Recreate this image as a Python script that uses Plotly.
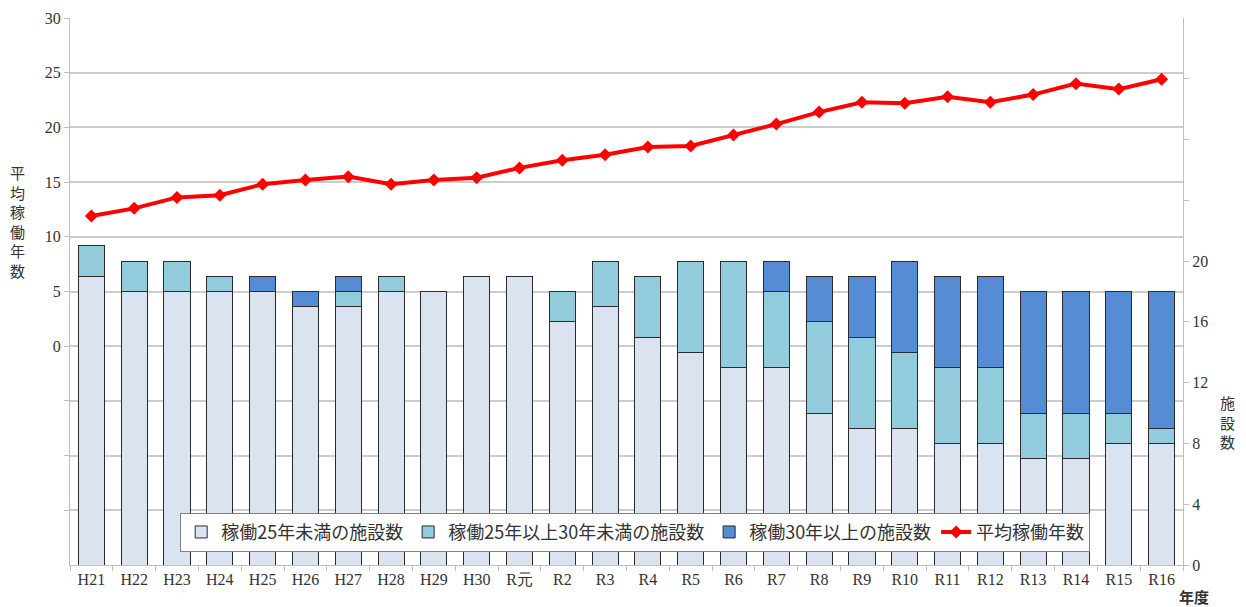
import plotly.graph_objects as go

years = ["H21","H22","H23","H24","H25","H26","H27","H28","H29","H30","R元",
         "R2","R3","R4","R5","R6","R7","R8","R9","R10","R11","R12","R13","R14","R15","R16"]
under25 = [19,18,18,18,18,17,17,18,18,19,19,16,17,15,14,13,13,10,9,9,8,8,7,7,8,8]
from25to30 = [2,2,2,1,0,0,1,1,0,0,0,2,3,4,6,7,5,6,6,5,5,5,3,3,2,1]
over30 = [0,0,0,0,1,1,1,0,0,0,0,0,0,0,0,0,2,3,4,6,6,6,8,8,8,9]
avg_years = [11.9,12.6,13.6,13.8,14.8,15.2,15.5,14.8,15.2,15.4,16.3,17.0,17.5,18.2,18.3,
             19.3,20.3,21.4,22.3,22.2,22.8,22.3,23.0,24.0,23.5,24.4]

left_tickvals = [-15,-10,-5,0,5,10,15,20,25,30]
left_ticktext = ["","","","0","5","10","15","20","25","30"]
right_tickvals = [0,4,8,12,16,20,24,28,32]
right_ticktext = ["0","4","8","12","16","20","","",""]

SERIF = "Liberation Serif, DejaVu Serif, serif"
CJK = "Noto Sans CJK JP"
edge = dict(color="#2b2b2b", width=1)

fig = go.Figure()
fig.add_trace(go.Bar(x=years, y=under25, name="稼働25年未満の施設数", yaxis="y2",
                     marker=dict(color="#dae3ef", line=edge)))
fig.add_trace(go.Bar(x=years, y=from25to30, name="稼働25年以上30年未満の施設数", yaxis="y2",
                     marker=dict(color="#92cbdc", line=edge)))
fig.add_trace(go.Bar(x=years, y=over30, name="稼働30年以上の施設数", yaxis="y2",
                     marker=dict(color="#558cd4", line=edge)))
fig.add_trace(go.Scatter(x=years, y=avg_years, name="平均稼働年数", mode="lines+markers",
                         line=dict(color="#ff0000", width=4),
                         marker=dict(symbol="diamond", size=10, color="#ff0000")))

fig.update_layout(
    width=1246, height=607,
    margin=dict(l=70, r=63, t=10, b=42),
    paper_bgcolor="white", plot_bgcolor="white",
    barmode="stack", bargap=0.39,
    font=dict(family=SERIF, size=15, color="#333333"),
    showlegend=True,
    legend=dict(orientation="h", x=0.099, y=0.0955, xanchor="left", yanchor="top",
                bgcolor="white", bordercolor="#7f7f7f", borderwidth=1,
                font=dict(family=CJK, size=18, color="#333333"),
                traceorder="normal", itemwidth=30),
    xaxis=dict(type="category", range=[-0.5, 25.5], showline=True, linecolor="#bfbfbf",
               linewidth=1, ticks="outside", ticklen=5, tickcolor="#bfbfbf",
               tickson="boundaries", showgrid=False,
               tickfont=dict(family=SERIF, size=16, color="#333333")),
    yaxis=dict(range=[-20, 30], tickvals=left_tickvals, ticktext=left_ticktext,
               showgrid=True, gridcolor="#cccccc", gridwidth=1.5, zeroline=False,
               showline=True, linecolor="#bfbfbf", linewidth=1,
               ticks="outside", ticklen=5, tickcolor="#bfbfbf",
               tickfont=dict(family=SERIF, size=16, color="#333333")),
    yaxis2=dict(range=[0, 36], overlaying="y", side="right", tickvals=right_tickvals,
                ticktext=right_ticktext, showgrid=False, zeroline=False,
                showline=True, linecolor="#bfbfbf", linewidth=1,
                ticks="outside", ticklen=5, tickcolor="#bfbfbf",
                tickfont=dict(family=SERIF, size=16, color="#333333")),
)

fig.add_annotation(text="平<br>均<br>稼<br>働<br>年<br>数", xref="paper", yref="paper",
                   x=-0.047, y=0.74, xanchor="center", yanchor="top", showarrow=False,
                   font=dict(family=CJK, size=15, color="#333333"))
fig.add_annotation(text="施<br>設<br>数", xref="paper", yref="paper",
                   x=1.04, y=0.32, xanchor="center", yanchor="top", showarrow=False,
                   font=dict(family=CJK, size=15, color="#333333"))
fig.add_annotation(text="<b>年度</b>", xref="paper", yref="paper",
                   x=1.01, y=-0.057, xanchor="center", yanchor="middle", showarrow=False,
                   font=dict(family=CJK, size=15, color="#333333"))

fig.write_html("out.html")
